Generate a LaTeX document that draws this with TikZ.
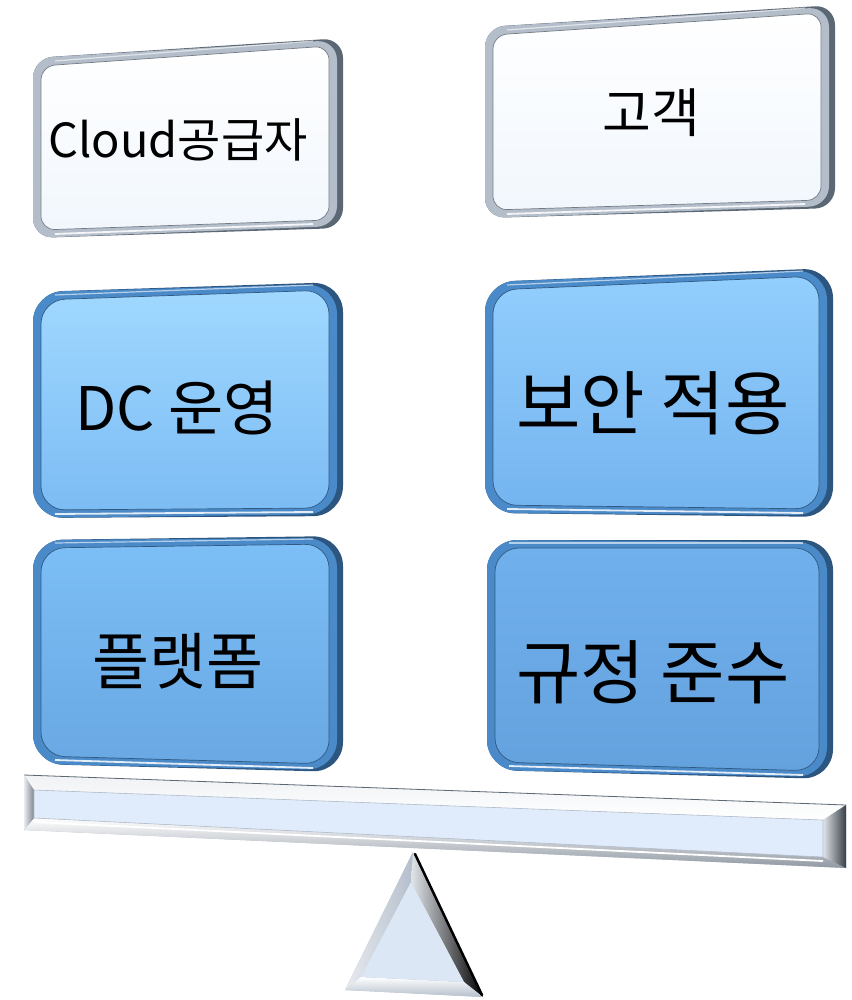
\documentclass[tikz,border=0pt]{standalone}
\usepackage{fontspec}
\setmainfont{Noto Sans CJK KR}
\usetikzlibrary{calc}
\definecolor{bledge}{HTML}{4A8AC8}
\definecolor{bldark}{HTML}{2C5680}
\definecolor{whedge}{HTML}{B4BECB}
\definecolor{whdark}{HTML}{5C6774}
\definecolor{wtop}{HTML}{FFFFFF}
\definecolor{wbot}{HTML}{F1F7FD}
\definecolor{ctop}{HTML}{A0D8FF}
\definecolor{cbot}{HTML}{7CBCF4}
\definecolor{dtop}{HTML}{7CBEF6}
\definecolor{dbot}{HTML}{69A8E3}
\definecolor{etop}{HTML}{92CEFD}
\definecolor{ebot}{HTML}{74B4EF}
\definecolor{ftop}{HTML}{70B0EC}
\definecolor{fbot}{HTML}{64A2DE}
\definecolor{beamface}{HTML}{E0ECFB}
\definecolor{triface}{HTML}{DCE7F5}
\tikzset{
  lbl/.style={text=black, inner sep=0pt, anchor=center},
}
\newcommand\bevelbox[8]{%
  \pgfmathsetmacro\rin{#8-6}%
  \fill[#5dark, rounded corners=#8pt] (#1) -- (#2) -- (#3) -- (#4) -- cycle;
  \fill[#5edge, rounded corners=#8pt] (#1) -- ($(#2)+(-6,2)$) -- ($(#3)+(-6,-2)$) -- (#4) -- cycle;
  \shade[top color=#6, bottom color=#7, draw=#5edge!65!black, line width=0.7pt, rounded corners=\rin pt]
    ($(#1)+(8,8)$) -- ($(#2)+(-14,8)$) -- ($(#3)+(-14,-8)$) -- ($(#4)+(8,-8)$) -- cycle;
  \draw[white, line width=1.8pt, opacity=0.85] ($(#4)+(22,-4)$) -- ($(#3)+(-30,-4)$);
  \draw[white, line width=1.2pt, opacity=0.6] ($(#1)+(22,3)$) -- ($(#2)+(-30,3)$);
}
\begin{document}
\begin{tikzpicture}[x=1pt,y=-1pt]
\useasboundingbox (0,0) rectangle (851,1000);
\fill[white] (0,0) rectangle (851,1000);

% corner coordinates
\coordinate (a1) at (33,58);  \coordinate (a2) at (343,38);  \coordinate (a3) at (343,228); \coordinate (a4) at (33,238);
\coordinate (b1) at (485,27); \coordinate (b2) at (835,5);   \coordinate (b3) at (835,208); \coordinate (b4) at (485,218);
\coordinate (c1) at (33,292); \coordinate (c2) at (343,282); \coordinate (c3) at (343,516); \coordinate (c4) at (33,518);
\coordinate (d1) at (33,540); \coordinate (d2) at (343,536); \coordinate (d3) at (343,772); \coordinate (d4) at (33,764);
\coordinate (e1) at (485,282);\coordinate (e2) at (833,268); \coordinate (e3) at (833,517); \coordinate (e4) at (485,513);
\coordinate (f1) at (487,540);\coordinate (f2) at (833,540); \coordinate (f3) at (833,779); \coordinate (f4) at (487,770);

\bevelbox{a1}{a2}{a3}{a4}{wh}{wtop}{wbot}{20}
\bevelbox{b1}{b2}{b3}{b4}{wh}{wtop}{wbot}{20}
\bevelbox{c1}{c2}{c3}{c4}{bl}{ctop}{cbot}{30}
\bevelbox{d1}{d2}{d3}{d4}{bl}{dtop}{dbot}{30}
\bevelbox{e1}{e2}{e3}{e4}{bl}{etop}{ebot}{30}
\bevelbox{f1}{f2}{f3}{f4}{bl}{ftop}{fbot}{30}

% labels
\node[lbl, font=\fontsize{47}{52}\selectfont] (t1) at (178,140) {Cloud공급자};
\node[lbl, font=\fontsize{53}{58}\selectfont] (t2) at (651,113) {고객};
\node[lbl, font=\fontsize{60}{66}\selectfont] (t3) at (177,408) {DC 운영};
\node[lbl, font=\fontsize{62}{68}\selectfont] (t4) at (178,661) {플랫폼};
\node[lbl, font=\fontsize{70}{76}\selectfont] (t5) at (653,403) {보안 적용};
\node[lbl, font=\fontsize{70}{76}\selectfont] (t6) at (653,672) {규정 준수};

% beam
\coordinate (p1) at (24,775); \coordinate (p2) at (846,805); \coordinate (p3) at (846,868); \coordinate (p4) at (24,830);
\coordinate (q1) at (34,790); \coordinate (q2) at (823,820); \coordinate (q3) at (823,857); \coordinate (q4) at (34,818);
\fill[whedge] (p1) -- (p2) -- (p3) -- (p4) -- cycle;
\shade[top color=white!80!whedge, bottom color=white] (p1) -- (p2) -- (q2) -- (q1) -- cycle;
\shade[top color=white, bottom color=whedge!80!black] (q4) -- (q3) -- (p3) -- (p4) -- cycle;
\shade[left color=white!70!whedge, right color=whedge!70!black] (p1) -- (q1) -- (q4) -- (p4) -- cycle;
\shade[left color=white!60!whedge, right color=whdark!60!black] (q2) -- (p2) -- (p3) -- (q3) -- cycle;
\fill[beamface, draw=whedge, line width=0.6pt] (q1) -- (q2) -- (q3) -- (q4) -- cycle;
\draw[whdark, line width=0.8pt] (p1) -- (p2);
\draw[white, line width=1.8pt] ($(q4)+(0,4)$) -- ($(q3)+(0,4)$);

% fulcrum
\coordinate (r1) at (413,852); \coordinate (r2) at (483,997); \coordinate (r3) at (345,990);
\coordinate (s1) at (411,882); \coordinate (s2) at (464,982); \coordinate (s3) at (361,977);
\fill[whedge] (r1) -- (r2) -- (r3) -- cycle;
\shade[left color=white!70!whedge, right color=whedge] (r1) -- (s1) -- (s3) -- (r3) -- cycle;
\shade[shading angle=-65, left color=white!60!whedge, right color=black] (r1) -- (r2) -- (s2) -- (s1) -- cycle;
\shade[top color=white, bottom color=whedge] (s3) -- (s2) -- (r2) -- (r3) -- cycle;
\fill[triface] (s1) -- (s2) -- (s3) -- cycle;
\draw[black, line width=2.5pt, line cap=round] ($(r1)+(2,2)$) -- ($(r2)+(-1,-2)$);
\end{tikzpicture}
\end{document}
